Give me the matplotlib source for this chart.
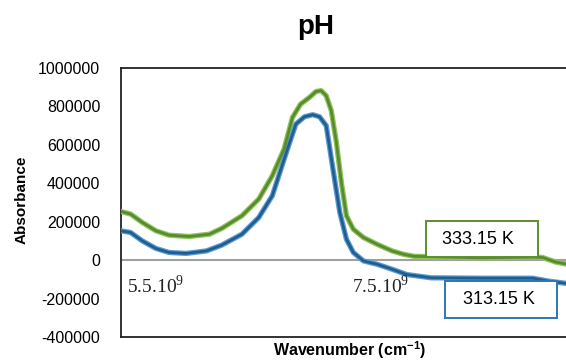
import matplotlib
matplotlib.use("Agg")
import matplotlib.pyplot as plt
from matplotlib.patches import Rectangle

# ---- data (wavenumber in units of 1e9) ----
x_333 = [5.185, 5.275, 5.380, 5.500, 5.617, 5.797, 5.977, 6.086, 6.266, 6.416,
         6.536, 6.641, 6.716, 6.788, 6.867, 6.926, 6.971, 7.016, 7.061, 7.106,
         7.151, 7.196, 7.257, 7.347, 7.467, 7.602, 7.707, 7.797, 8.095, 8.401,
         8.851, 8.941, 9.059, 9.203]
y_333 = [254000, 240000, 196000, 153000, 130000, 123000, 135000, 165000, 231000, 318000,
         439000, 578000, 743000, 812000, 847000, 878000, 882000, 856000, 778000, 615000,
         404000, 231000, 161000, 118000, 83000, 48000, 30000, 20000, 16000, 12000,
         16000, 14000, -10000, -26000]

x_313 = [5.185, 5.275, 5.380, 5.500, 5.617, 5.770, 5.950, 6.086, 6.266, 6.416,
         6.536, 6.671, 6.746, 6.822, 6.896, 6.957, 7.016, 7.032, 7.077, 7.137,
         7.196, 7.257, 7.347, 7.467, 7.590, 7.734, 7.950, 8.401, 8.851, 8.995, 9.203]
y_313 = [153000, 144000, 100000, 61000, 40000, 35000, 48000, 78000, 135000, 222000,
         335000, 578000, 708000, 746000, 757000, 746000, 700000, 640000, 470000, 248000,
         109000, 40000, -4000, -21000, -45000, -75000, -92000, -94000, -94000, -109000, -125000]

series_labels = ["333.15 K", "313.15 K"]
x_tick_pos = [5.5, 7.5]
x_tick_labels = [r"5.5.10$^{9}$", r"7.5.10$^{9}$"]
y_ticks = [-400000, -200000, 0, 200000, 400000, 600000, 800000, 1000000]

plt.rcParams["font.family"] = ["Liberation Sans", "DejaVu Sans"]
plt.rcParams["mathtext.fontset"] = "custom"
plt.rcParams["mathtext.rm"] = "Liberation Serif"
plt.rcParams["mathtext.bf"] = "Liberation Sans:bold"

fig = plt.figure(figsize=(5.66, 3.61), dpi=100)
ax = fig.add_axes([121/566, 24/361, 1 - 121/566 + 0.01, 269/361])

ax.set_xlim(5.19, 9.2)
ax.set_ylim(-400000, 1000000)
ax.set_yticks(y_ticks)
ax.set_yticklabels([str(v) for v in y_ticks], fontsize=11.5)
ax.tick_params(axis="y", length=0, pad=15)
ax.set_xticks([])

for s in ["left", "bottom", "top"]:
    ax.spines[s].set_linewidth(1.3)
    ax.spines[s].set_color("#222222")
ax.spines["right"].set_visible(False)

ax.axhline(0, color="#A0A0A0", lw=1.5, zorder=1)

kw = dict(solid_joinstyle="round", solid_capstyle="round")
ax.plot(x_333, y_333, color="#8DC558", lw=3.8, zorder=3, **kw)
ax.plot(x_333, y_333, color="#5A8A2F", lw=2.0, zorder=4, **kw)
ax.plot(x_313, y_313, color="#5B9BD5", lw=3.8, zorder=3, **kw)
ax.plot(x_313, y_313, color="#215E8E", lw=2.0, zorder=4, **kw)

for xp, lab in zip(x_tick_pos, x_tick_labels):
    ax.text(xp, -135000, lab, ha="center", va="center", fontsize=14,
            family="Liberation Serif", color="#222222", zorder=5)

ax.add_patch(Rectangle((7.90, 15600), 1.0, 189000, facecolor="white",
                       edgecolor="#5E8E30", lw=1.4, zorder=6))
ax.text(8.37, 110000, series_labels[0], ha="center", va="center", fontsize=13, zorder=7)
ax.add_patch(Rectangle((8.07, -302000), 1.0, 194000, facecolor="white",
                       edgecolor="#2E75B6", lw=1.4, zorder=6))
ax.text(8.55, -205000, series_labels[1], ha="center", va="center", fontsize=13, zorder=7)

fig.text(316/566, 1 - 27/361, "pH", ha="center", va="center", fontsize=20, fontweight="bold")
fig.text(22/566, 1 - 200/361, "Absorbance", ha="center", va="center", rotation=90,
         fontsize=11, fontweight="bold")
fig.text(350/566, 1 - 350/361, r"Wavenumber (cm$^{\mathbf{-1}}$)", ha="center", va="center",
         fontsize=11.5, fontweight="bold")

fig.savefig("out.png", dpi=100)
